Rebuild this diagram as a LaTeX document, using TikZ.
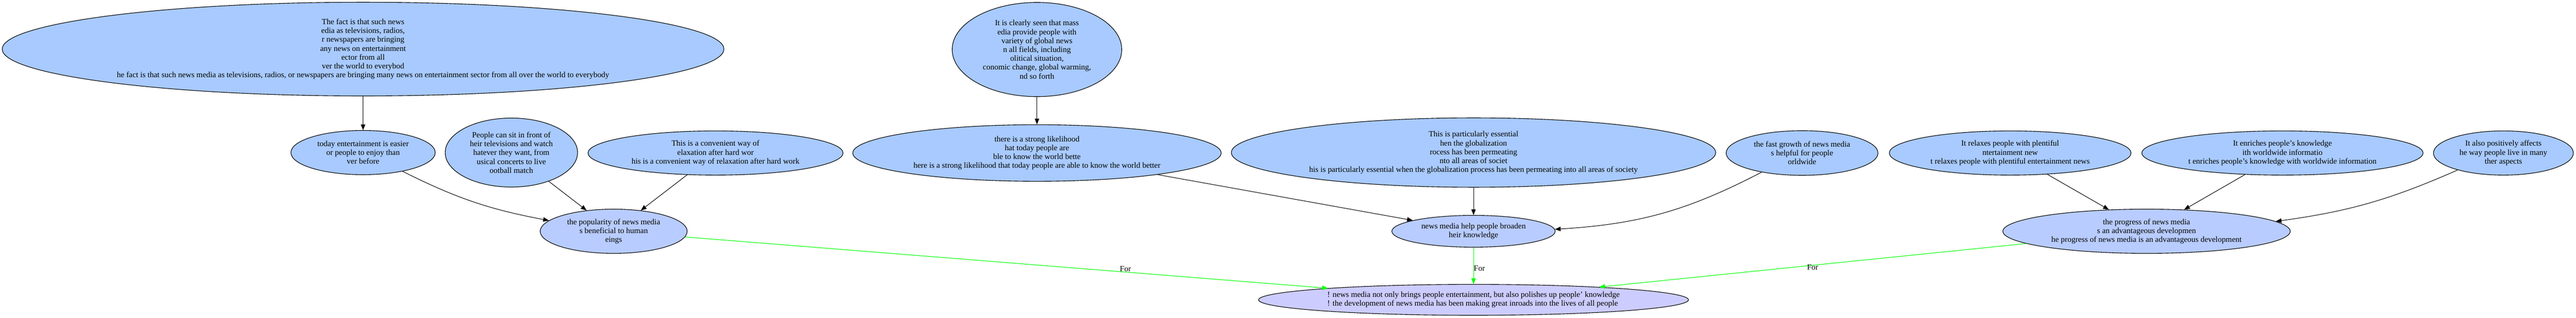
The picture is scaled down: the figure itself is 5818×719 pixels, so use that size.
\documentclass[tikz,border=0pt]{standalone}
\usepackage{fontspec}
\setmainfont{Liberation Serif}
\usetikzlibrary{arrows.meta,shapes.geometric}

\definecolor{premisefill}{RGB}{168,202,255}
\definecolor{reasonfill}{RGB}{184,204,255}
\definecolor{thesisfill}{RGB}{204,204,255}

\begin{document}
\begin{tikzpicture}[
    x = 1pt, y = -1pt, % pixel grid, y runs downwards
    > = {Triangle[length=13pt,width=10pt]}, % arrow head style
    line width = 1.2pt, % line style
    font = \fontsize{18}{20}\selectfont
    ]

    \tikzset{
    argnode/.style = {ellipse, draw = black, line width = 1.3pt, inner sep = 0pt, align = center},
    premise/.style = {argnode, fill = premisefill},
    reason/.style = {argnode, fill = reasonfill},
    conclusion/.style = {argnode, fill = thesisfill, align = left},
    foredge/.style = {draw = green, line width = 1.3pt}
    }
    \useasboundingbox (0,0) rectangle (5818,719);

    % top row
    \node[premise, minimum width=1630pt, minimum height=212pt] (fact) at (820,111) {The fact is that such news\\edia as televisions, radios,\\r newspapers are bringing\\any news on entertainment\\ector from all\\ver the world to everybod\\he fact is that such news media as televisions, radios, or newspapers are bringing many news on entertainment sector from all over the world to everybody};
    \node[premise, minimum width=383pt, minimum height=213pt] (massmedia) at (2342,112) {It is clearly seen that mass\\edia provide people with\\variety of global news\\n all fields, including\\olitical situation,\\conomic change, global warming,\\nd so forth};

    % second row
    \node[premise, minimum width=326pt, minimum height=100pt] (easier) at (820,345) {today entertainment is easier\\or people to enjoy than\\ver before};
    \node[premise, minimum width=299pt, minimum height=156pt] (sitfront) at (1155,345) {People can sit in front of\\heir televisions and watch\\hatever they want, from\\usical concerts to live\\ootball match};
    \node[premise, minimum width=576pt, minimum height=100pt] (relax) at (1616,346) {This is a convenient way of\\elaxation after hard wor\\his is a convenient way of relaxation after hard work};
    \node[premise, minimum width=832pt, minimum height=128pt] (likely) at (2342,346) {there is a strong likelihood\\hat today people are\\ble to know the world bette\\here is a strong likelihood that today people are able to know the world better};
    \node[premise, minimum width=1094pt, minimum height=157pt] (essential) at (3328,345) {This is particularly essential\\hen the globalization\\rocess has been permeating\\nto all areas of societ\\his is particularly essential when the globalization process has been permeating into all areas of society};
    \node[premise, minimum width=343pt, minimum height=101pt] (growth) at (4070,346) {the fast growth of news media\\s helpful for people\\orldwide};
    \node[premise, minimum width=546pt, minimum height=100pt] (relaxes) at (4540,346) {It relaxes people with plentiful\\ntertainment new\\t relaxes people with plentiful entertainment news};
    \node[premise, minimum width=635pt, minimum height=100pt] (enriches) at (5155,346) {It enriches people's knowledge\\ith worldwide informatio\\t enriches people's knowledge with worldwide information};
    \node[premise, minimum width=316pt, minimum height=100pt] (affects) at (5654,346) {It also positively affects\\he way people live in many\\ther aspects};

    % reasons
    \node[reason, minimum width=332pt, minimum height=100pt] (popular) at (1386,523) {the popularity of news media\\s beneficial to human\\eings};
    \node[reason, minimum width=369pt, minimum height=72pt] (broaden) at (3328,523) {news media help people broaden\\heir knowledge};
    \node[reason, minimum width=649pt, minimum height=100pt] (progress) at (4848,523) {the progress of news media\\s an advantageous developmen\\he progress of news media is an advantageous development};

    % thesis
    \node[conclusion, minimum width=971pt, minimum height=70pt] (thesis) at (3328,678) {! news media not only brings people entertainment, but also polishes up people' knowledge\\! the development of news media has been making great inroads into the lives of all people};

    \path[->] (fact) edge (easier);
    \path[->] (easier) edge[bend right=8] (popular);
    \path[->] (sitfront) edge (popular);
    \path[->] (relax) edge (popular);
    \path[->] (massmedia) edge (likely);
    \path[->] (likely) edge (broaden);
    \path[->] (essential) edge (broaden);
    \path[->] (growth) edge[bend left=12] (broaden);
    \path[->] (relaxes) edge (progress);
    \path[->] (enriches) edge (progress);
    \path[->] (affects) edge[bend left=8] (progress);

    \path[->] (popular) edge[foredge] node[pos=0.685, above, inner sep=1pt]{For} (thesis);
    \path[->] (broaden) edge[foredge] node[pos=0.57, right, inner sep=0pt]{For} (thesis);
    \path[->] (progress) edge[foredge] node[pos=0.5, yshift=-5pt]{For} (thesis);
\end{tikzpicture}
\end{document}
